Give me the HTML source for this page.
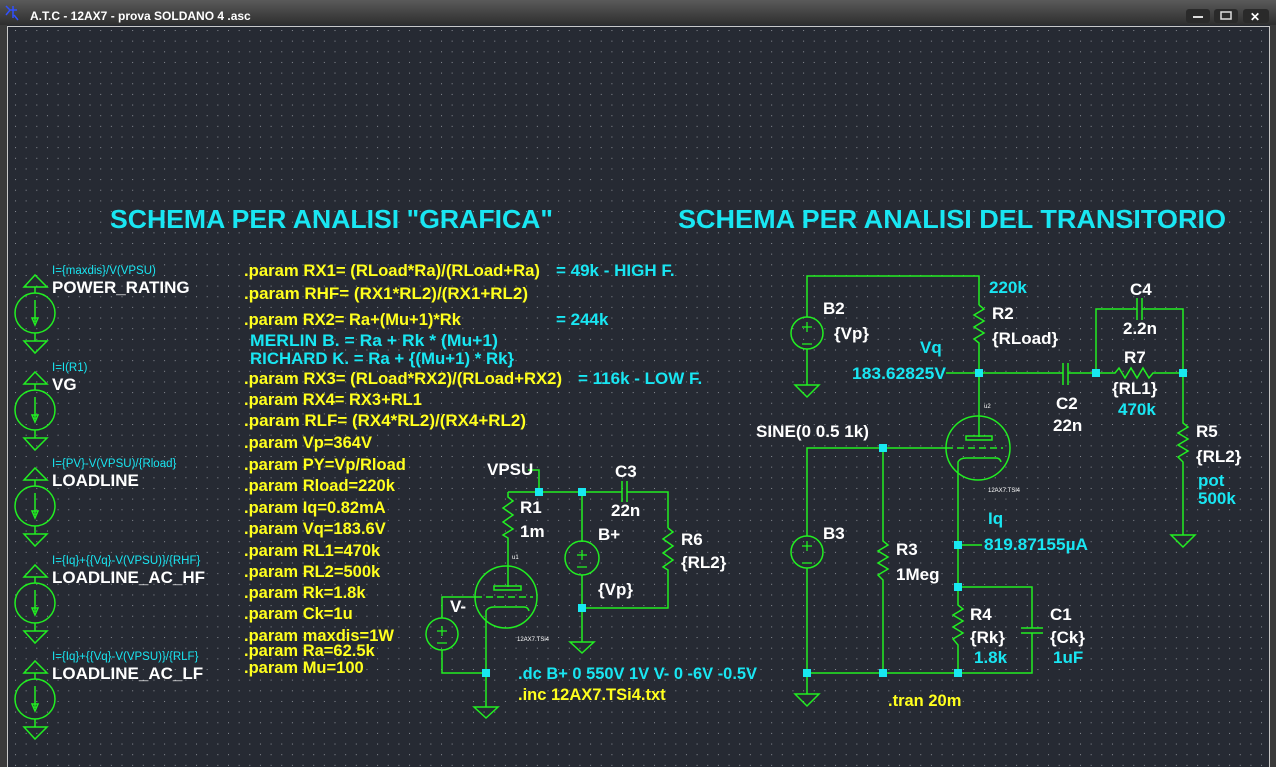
<!DOCTYPE html>
<html><head><meta charset="utf-8"><style>
html,body{margin:0;padding:0;background:#262a33;width:1276px;height:767px;overflow:hidden}
svg{display:block}
text{font-family:"Liberation Sans",sans-serif;font-weight:bold}
.w{fill:#ffffff;font-size:17px}
.c{fill:#19e6f2;font-size:17px}
.y{fill:#ffff1e;font-size:16.5px}
.s{fill:#19e6f2;font-size:11.5px;font-weight:normal}
.t{fill:#ffffff;font-size:6px;font-weight:normal}
.g{stroke:#22ee22;stroke-width:1.5;fill:none}
.n{fill:#18e8f0}
</style></head><body>
<svg width="1276" height="767" viewBox="0 0 1276 767" xmlns="http://www.w3.org/2000/svg">
<defs>
<linearGradient id="tb" x1="0" y1="0" x2="0" y2="1"><stop offset="0" stop-color="#5a5a5a"/><stop offset="1" stop-color="#2e2e2e"/></linearGradient>
<pattern id="dots" x="15" y="30" width="10.65" height="10.65" patternUnits="userSpaceOnUse"><rect x="0" y="0" width="1" height="1" fill="#8a8e96"/></pattern>
<g id="isrc">
<polygon points="35,275 24,287 47,287" class="g"/>
<line x1="35" y1="287" x2="35" y2="293" class="g"/>
<circle cx="35" cy="313" r="20" class="g"/>
<line x1="35" y1="300" x2="35" y2="322" class="g"/>
<polygon points="32,318 38,318 35,325" class="g" stroke-width="1"/>
<line x1="35" y1="333" x2="35" y2="341" class="g"/>
<polygon points="24,341 47,341 35,353" class="g"/>
</g>
</defs>
<rect width="1276" height="767" fill="#262a33"/>
<rect x="0" y="0" width="1276" height="25" fill="url(#tb)"/>
<rect x="0" y="25" width="7" height="742" fill="#3a3a3a"/>
<rect x="1270" y="25" width="6" height="742" fill="#3a3a3a"/>
<line x1="7.5" y1="26" x2="7.5" y2="767" stroke="#c8c8c8"/>
<line x1="7" y1="26.5" x2="1270" y2="26.5" stroke="#c8c8c8"/>
<line x1="1269.5" y1="26" x2="1269.5" y2="767" stroke="#c8c8c8"/>
<rect x="8" y="27" width="1261" height="740" fill="url(#dots)"/>
<text x="30" y="20" style="fill:#fff;font-size:12px">A.T.C  - 12AX7 - prova SOLDANO 4 .asc</text>
<path d="M6 6 L10 10 L6 15 M10 10 L17 10 M13 6 L13 18 M14 15 L18 20" stroke="#3050ff" stroke-width="1.5" fill="none"/>
<rect x="1186" y="9" width="24" height="14" rx="3" fill="#2a2a2a"/><rect x="1193" y="16" width="10" height="2" fill="#ddd"/>
<rect x="1214" y="9" width="24" height="14" rx="3" fill="#2a2a2a"/><rect x="1221" y="12" width="10" height="7" fill="none" stroke="#ddd" stroke-width="1.5"/>
<rect x="1243" y="9" width="26" height="14" rx="3" fill="#2a2a2a"/><text x="1250" y="21" style="fill:#fff;font-size:12px">✕</text>

<text x="110" y="228" style="fill:#19e6f2;font-size:26px" textLength="443" lengthAdjust="spacingAndGlyphs">SCHEMA PER ANALISI "GRAFICA"</text>
<text x="678" y="228" style="fill:#19e6f2;font-size:26px" textLength="548" lengthAdjust="spacingAndGlyphs">SCHEMA PER ANALISI DEL TRANSITORIO</text>

<use href="#isrc"/>
<use href="#isrc" y="97"/>
<use href="#isrc" y="193"/>
<use href="#isrc" y="290"/>
<use href="#isrc" y="386"/>
<text x="52" y="274" class="s">I={maxdis}/V(VPSU)</text><text x="52" y="293" class="w">POWER_RATING</text>
<text x="52" y="371" class="s">I=I(R1)</text><text x="52" y="390" class="w">VG</text>
<text x="52" y="467" class="s">I={PV}-V(VPSU)/{Rload}</text><text x="52" y="486" class="w">LOADLINE</text>
<text x="52" y="564" class="s">I={Iq}+{{Vq}-V(VPSU)}/{RHF}</text><text x="52" y="583" class="w">LOADLINE_AC_HF</text>
<text x="52" y="660" class="s">I={Iq}+{{Vq}-V(VPSU)}/{RLF}</text><text x="52" y="679" class="w">LOADLINE_AC_LF</text>

<text x="244" y="276" class="y" textLength="296" lengthAdjust="spacingAndGlyphs">.param RX1= (RLoad*Ra)/(RLoad+Ra)</text>
<text x="244" y="299" class="y" textLength="284" lengthAdjust="spacingAndGlyphs">.param RHF= (RX1*RL2)/(RX1+RL2)</text>
<text x="244" y="325" class="y">.param RX2= Ra+(Mu+1)*Rk</text>
<text x="244" y="384" class="y" textLength="318" lengthAdjust="spacingAndGlyphs">.param RX3= (RLoad*RX2)/(RLoad+RX2)</text>
<text x="244" y="405" class="y">.param RX4= RX3+RL1</text>
<text x="244" y="426" class="y" textLength="282" lengthAdjust="spacingAndGlyphs">.param RLF= (RX4*RL2)/(RX4+RL2)</text>
<text x="244" y="448" class="y">.param Vp=364V</text>
<text x="244" y="470" class="y">.param PY=Vp/Rload</text>
<text x="244" y="491" class="y">.param Rload=220k</text>
<text x="244" y="513" class="y">.param Iq=0.82mA</text>
<text x="244" y="534" class="y">.param Vq=183.6V</text>
<text x="244" y="556" class="y">.param RL1=470k</text>
<text x="244" y="577" class="y">.param RL2=500k</text>
<text x="244" y="598" class="y">.param Rk=1.8k</text>
<text x="244" y="619" class="y">.param Ck=1u</text>
<text x="244" y="641" class="y">.param maxdis=1W</text>
<text x="244" y="656" class="y">.param Ra=62.5k</text>
<text x="244" y="673" class="y">.param Mu=100</text>
<text x="556" y="276" class="c">= 49k - HIGH F.</text>
<text x="556" y="325" class="c">= 244k</text>
<text x="250" y="346" class="c" textLength="248" lengthAdjust="spacingAndGlyphs">MERLIN B.    = Ra + Rk * (Mu+1)</text>
<text x="250" y="364" class="c" textLength="264" lengthAdjust="spacingAndGlyphs">RICHARD K. = Ra + {(Mu+1) * Rk}</text>
<text x="578" y="384" class="c">= 116k - LOW F.</text>

<g class="g">
<polyline points="528,470 539,470 539,492"/>
<polyline points="508,492 622,492"/><polyline points="627,492 668,492 668,528"/>
<line x1="622" y1="481" x2="622" y2="502"/><line x1="627" y1="481" x2="627" y2="502"/>
<polyline points="508,492 508,497 513,501 503,508 513,515 503,522 513,529 503,535 508,538 508,587"/>
<rect x="494" y="586" width="27" height="4"/>
<circle cx="506" cy="597" r="31"/>
<line x1="475" y1="597" x2="533" y2="597" stroke-dasharray="7,4"/>
<polyline points="442,618 442,597 475,597"/>
<circle cx="442" cy="634" r="16"/>
<polyline points="442,650 442,673 486,673"/>
<path d="M486,673 L486,611 Q488,607 494,607 L524,607 Q528,607 529,611"/>
<polyline points="486,673 486,707"/><polygon points="474,707 498,707 486,718"/>
<polyline points="582,492 582,542"/><circle cx="582" cy="558" r="17"/><polyline points="582,575 582,642"/>
<polygon points="570,642 594,642 582,653"/>
<polyline points="668,528 673,532 663,539 673,546 663,553 673,560 663,567 668,570 668,608 582,608"/>
</g>
<g stroke="#22ee22" stroke-width="1.3"><line x1="582" y1="550" x2="582" y2="560"/><line x1="577" y1="555" x2="587" y2="555"/><line x1="577" y1="567" x2="587" y2="567"/>
<line x1="442" y1="626" x2="442" y2="636"/><line x1="437" y1="631" x2="447" y2="631"/><line x1="437" y1="643" x2="447" y2="643"/></g>
<rect class="n" x="535" y="488" width="8" height="8"/><rect class="n" x="578" y="488" width="8" height="8"/>
<rect class="n" x="578" y="604" width="8" height="8"/><rect class="n" x="482" y="669" width="8" height="8"/>
<text x="487" y="475" class="w">VPSU</text>
<text x="615" y="477" class="w">C3</text><text x="611" y="516" class="w">22n</text>
<text x="520" y="513" class="w">R1</text><text x="520" y="537" class="w">1m</text>
<text x="598" y="540" class="w">B+</text><text x="598" y="595" class="w">{Vp}</text>
<text x="681" y="545" class="w">R6</text><text x="681" y="568" class="w">{RL2}</text>
<text x="450" y="612" class="w">V-</text>
<text x="512" y="559" class="t">u1</text><text x="517" y="641" class="t">12AX7.TSi4</text>
<text x="518" y="679" class="c" textLength="239" lengthAdjust="spacingAndGlyphs">.dc B+ 0 550V 1V V- 0 -6V -0.5V</text>
<text x="518" y="700" class="y">.inc 12AX7.TSi4.txt</text>

<g class="g">
<polyline points="807,317 807,276 979,276 979,305"/>
<circle cx="807" cy="333" r="16"/>
<polyline points="807,349 807,385"/><polygon points="795,385 819,385 807,397"/>
<polyline points="979,305 984,309 974,315 984,321 974,327 984,333 974,339 979,343 979,437"/>
<polyline points="946,373 1063,373"/><line x1="1063" y1="363" x2="1063" y2="385"/><line x1="1068" y1="363" x2="1068" y2="385"/>
<polyline points="1068,373 1115,373 1119,368 1125,378 1131,368 1137,378 1143,368 1149,378 1153,373 1183,373"/>
<polyline points="1096,373 1096,309 1137,309"/><polyline points="1142,309 1183,309 1183,373"/>
<line x1="1137" y1="298" x2="1137" y2="320"/><line x1="1142" y1="298" x2="1142" y2="320"/>
<polyline points="1183,373 1183,423 1188,427 1178,433 1188,439 1178,445 1188,451 1178,457 1183,462 1183,535"/>
<polygon points="1171,535 1195,535 1183,547"/>
<rect x="966" y="436" width="26" height="4"/>
<circle cx="978" cy="448" r="32"/>
<line x1="946" y1="448" x2="1003" y2="448" stroke-dasharray="7,4"/>
<polyline points="807,536 807,448 946,448"/>
<path d="M958,545 L958,462 Q960,458 966,458 L996,458 Q1000,458 1001,462"/>
<polyline points="958,545 982,545"/>
<polyline points="958,545 958,605 963,609 953,615 963,621 953,627 963,633 953,639 958,645 958,673"/>
<polyline points="958,587 1032,587 1032,628"/><line x1="1021" y1="628" x2="1043" y2="628"/><line x1="1021" y1="633" x2="1043" y2="633"/>
<polyline points="1032,633 1032,673 807,673"/>
<circle cx="807" cy="552" r="16"/><polyline points="807,568 807,694"/>
<polygon points="795,694 819,694 807,706"/>
<polyline points="883,448 883,541 888,545 878,551 888,557 878,563 888,569 878,575 883,580 883,673"/>
</g>
<g stroke="#22ee22" stroke-width="1.3"><line x1="807" y1="322" x2="807" y2="332"/><line x1="802" y1="327" x2="812" y2="327"/><line x1="802" y1="344" x2="812" y2="344"/>
<line x1="807" y1="541" x2="807" y2="551"/><line x1="802" y1="546" x2="812" y2="546"/><line x1="802" y1="563" x2="812" y2="563"/></g>
<rect class="n" x="975" y="369" width="8" height="8"/><rect class="n" x="1092" y="369" width="8" height="8"/>
<rect class="n" x="1179" y="369" width="8" height="8"/><rect class="n" x="879" y="444" width="8" height="8"/>
<rect class="n" x="954" y="541" width="8" height="8"/><rect class="n" x="954" y="583" width="8" height="8"/>
<rect class="n" x="803" y="669" width="8" height="8"/><rect class="n" x="879" y="669" width="8" height="8"/>
<rect class="n" x="954" y="669" width="8" height="8"/>
<text x="823" y="314" class="w">B2</text><text x="834" y="339" class="w">{Vp}</text>
<text x="989" y="293" class="c">220k</text>
<text x="992" y="319" class="w">R2</text><text x="992" y="344" class="w">{RLoad}</text>
<text x="920" y="353" class="c">Vq</text><text x="852" y="379" class="c" textLength="94" lengthAdjust="spacingAndGlyphs">183.62825V</text>
<text x="1130" y="295" class="w">C4</text><text x="1123" y="334" class="w">2.2n</text>
<text x="1124" y="363" class="w">R7</text><text x="1112" y="394" class="w">{RL1}</text>
<text x="1118" y="415" class="c">470k</text>
<text x="1056" y="409" class="w">C2</text><text x="1053" y="431" class="w">22n</text>
<text x="1196" y="437" class="w">R5</text><text x="1196" y="462" class="w">{RL2}</text>
<text x="1198" y="486" class="c">pot</text><text x="1198" y="504" class="c">500k</text>
<text x="756" y="437" class="w" textLength="113" lengthAdjust="spacingAndGlyphs">SINE(0 0.5 1k)</text>
<text x="984" y="408" class="t">u2</text><text x="988" y="492" class="t">12AX7.TSi4</text>
<text x="988" y="524" class="c">Iq</text><text x="984" y="550" class="c" textLength="104" lengthAdjust="spacingAndGlyphs">819.87155µA</text>
<text x="823" y="539" class="w">B3</text>
<text x="896" y="555" class="w">R3</text><text x="896" y="580" class="w">1Meg</text>
<text x="970" y="620" class="w">R4</text><text x="970" y="643" class="w">{Rk}</text><text x="974" y="663" class="c">1.8k</text>
<text x="1050" y="620" class="w">C1</text><text x="1050" y="643" class="w">{Ck}</text><text x="1053" y="663" class="c">1uF</text>
<text x="888" y="706" class="y">.tran 20m</text>
</svg>
</body></html>
